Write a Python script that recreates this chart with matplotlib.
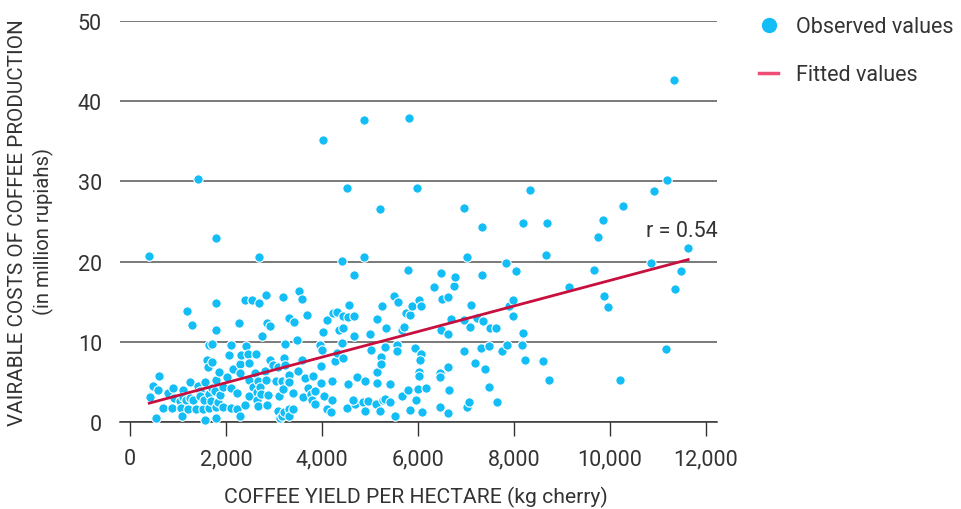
import numpy as np
import matplotlib.pyplot as plt
from matplotlib.lines import Line2D

# observed points (yield kg cherry / ha, variable cost million rupiah)
obs_x = [396, 417, 479, 583, 542, 604, 687, 792, 875, 896, 917, 1042, 1062, 1083,
         1104, 1104, 1167, 1187, 1208, 1250, 1250, 1292, 1312, 1375, 1417, 1417, 1458, 1458,
         1521, 1542, 1562, 1562, 1604, 1625, 1646, 1646, 1646, 1687, 1708, 1708, 1708, 1771,
         1792, 1792, 1792, 1792, 1792, 1792, 1833, 1854, 1875, 1937, 1937, 2021, 2062, 2104,
         2104, 2104, 2146, 2229, 2229, 2271, 2292, 2292, 2292, 2312, 2396, 2396, 2417, 2458,
         2479, 2479, 2479, 2542, 2562, 2604, 2625, 2646, 2646, 2667, 2667, 2687, 2687,
         2708, 2729, 2750, 2812, 2833, 2833, 2854, 2854, 2875, 2917, 2917, 2979, 3042, 3083,
         3083, 3104, 3125, 3167, 3167, 3187, 3187, 3229, 3208, 3229, 3208, 3292, 3312, 3312,
         3312, 3312, 3312, 3396, 3396, 3417, 3479, 3500, 3521, 3583, 3583, 3604, 3646, 3687,
         3708, 3771, 3792, 3812, 3854, 3854, 3958, 4000, 3979, 3979, 4021, 4021, 4042, 4104,
         4104, 4187,
         4208, 4208, 4229, 4271, 4312, 4312, 4354, 4417, 4417, 4437, 4437, 4437, 4521, 4521,
         4542, 4542, 4562, 4667, 4667, 4667, 4687, 4646, 4729, 4854, 4875, 4875, 4896, 4896,
         4958, 5000, 5021, 5125, 5146, 5146, 5146, 5208, 5208, 5229, 5229, 5250, 5271, 5312,
         5312, 5333, 5417, 5417, 5500, 5521, 5562, 5562, 5583,
         5667, 5667, 5708, 5750, 5833, 5792, 5792, 5812, 5833, 5875, 5937, 5958, 5979, 6000,
         6021, 6021, 6021, 6062, 6062, 6042, 6083, 6167, 6333, 6458, 6458, 6458, 6479, 6479,
         6500, 6625, 6625, 6625, 6625, 6646, 6687, 6750, 6771, 6958, 6958, 6958, 7021, 7021,
         7062, 7083,
         7104, 7187, 7229, 7312, 7333, 7333, 7354, 7396, 7479, 7479, 7500, 7625, 7646, 7750,
         7833, 7854, 7896, 7979, 7979, 8042, 8167, 8187, 8187, 8229, 8333, 8604, 8667, 8687,
         8729,
         9146, 9667, 9750, 9854, 9875, 9958, 10208, 10271, 10854, 10917, 11167, 11187, 11333,
         11354, 11479, 11625]
obs_y = [20.7, 3.1, 4.5, 4.0, 0.5, 5.7, 1.7, 3.6, 1.7, 4.2, 3.0, 2.6, 1.7, 0.7,
         4.0, 3.1, 2.7, 13.8, 1.6, 5.0, 3.0, 12.1, 2.7, 1.6, 30.3, 4.5, 3.9, 3.2,
         1.6, 2.7, 5.0, 0.2, 7.7, 6.9, 9.6, 3.5, 1.7, 2.6, 9.7, 7.5, 4.2, 3.9,
         22.9, 14.8, 11.5, 5.2, 1.9, 0.5, 2.5, 6.2, 3.4, 4.4, 1.9, 5.6, 8.4, 9.6,
         4.2, 1.7, 6.6, 3.6, 1.6, 12.3, 7.2, 6.1, 0.7, 8.4, 15.2, 2.1, 9.5, 8.5,
         7.4, 5.2, 3.2, 15.2, 4.4, 6.1, 8.5, 3.7, 2.7, 5.1, 2.0, 20.6, 14.8,
         4.4, 3.5, 10.7, 6.4, 15.8, 5.2, 12.3, 2.1, 3.4, 12.0, 7.7, 7.1, 5.1, 6.9,
         1.4, 3.2, 0.5, 5.1, 0.7, 15.6, 4.1, 9.7, 8.0, 7.1, 1.2, 5.1, 13.0, 5.9,
         5.0, 1.6, 0.7, 3.6, 1.6, 12.5, 10.2, 6.4, 16.3, 15.3, 7.7, 3.1, 5.5, 13.3,
         4.2, 3.5, 2.7, 5.7, 3.9, 2.2, 9.6, 9.0, 7.0, 4.9, 11.2, 35.2, 3.2, 12.7,
         1.6, 1.2,
         5.1, 2.7, 13.6, 7.6, 13.7, 8.6, 11.5, 20.1, 9.9, 13.2, 11.7, 8.0, 29.2, 1.7,
         13.1, 4.7, 14.6, 18.3, 13.2, 10.7, 2.2, 2.7, 5.6, 2.5, 37.7, 20.6, 5.1, 1.4,
         2.6, 11.0, 9.0, 2.2, 12.8, 6.2, 4.9, 26.6, 1.4, 8.1, 7.2, 14.5, 2.7, 9.4,
         2.9, 11.7, 4.7, 2.5, 15.7, 0.7, 9.6, 8.9, 15.0,
         11.5, 3.2, 11.8, 13.6, 13.3, 19.0, 4.0, 37.9, 1.5, 14.5, 9.2, 2.7, 29.2, 4.1,
         15.2, 6.2, 5.7, 14.5, 8.5, 7.7, 1.2, 4.2, 16.8, 1.9, 6.1, 5.6, 18.6, 11.5,
         15.3, 15.6, 11.0, 6.9, 1.1, 4.0, 12.8, 17.0, 18.1, 8.9, 26.7, 12.7, 20.6, 1.9,
         2.5, 11.8,
         14.6, 7.4, 13.0, 9.2, 18.3, 24.3, 12.6, 6.6, 9.5, 4.4, 11.7, 11.7, 2.5, 8.9,
         19.8, 9.6, 14.5, 15.2, 13.2, 18.8, 9.6, 24.8, 11.1, 7.7, 28.9, 7.6, 20.8, 24.8,
         5.2,
         16.8, 19.0, 23.1, 25.2, 15.7, 14.3, 5.2, 26.9, 19.8, 28.8, 9.1, 30.2, 42.6,
         16.6, 18.8, 21.7]

# fitted line end points
fit_x = [400, 11630]
fit_y = [2.35, 20.25]

x_ticks = [0, 2000, 4000, 6000, 8000, 10000, 12000]
y_ticks = [0, 10, 20, 30, 40, 50]

BLUE = '#13bdf5'
RED = '#c8103e'
TXT = '#333333'

plt.rcParams['font.family'] = ['Roboto', 'DejaVu Sans']

fig = plt.figure(figsize=(9.61, 5.10), dpi=100)
ax = fig.add_axes([120 / 961, 87 / 510, 597 / 961, 401 / 510])

ax.scatter(obs_x, obs_y, s=46, color=BLUE, edgecolors='white', linewidths=0.8,
           zorder=3, clip_on=False)
ax.plot(fit_x, fit_y, color=RED, lw=2, zorder=4)

ax.set_xlim(-210, 12230)
ax.set_ylim(0, 50)
ax.set_xticks(x_ticks)
ax.set_xticklabels(['{:,}'.format(v) for v in x_ticks])
ax.set_yticks(y_ticks)
ax.yaxis.grid(True, color='#555555', lw=1.1)
ax.set_axisbelow(True)
for s in ['top', 'right', 'left']:
    ax.spines[s].set_visible(False)
ax.spines['bottom'].set_color('#333333')
ax.spines['bottom'].set_linewidth(1.1)
ax.tick_params(axis='x', length=10, width=1, color='#333333', pad=9,
               labelsize=15.5, labelcolor=TXT)
ax.tick_params(axis='y', length=0, pad=13, labelsize=15.5, labelcolor=TXT)

ax.text(12250, 23.9, 'r = 0.54', ha='right', va='center', fontsize=15.5, color=TXT)

fig.text(416 / 961, 1 - 497 / 510, 'COFFEE YIELD PER HECTARE (kg cherry)',
         ha='center', va='center', fontsize=15.2, color=TXT)
fig.text(18 / 961, 1 - 223 / 510, 'VAIRABLE COSTS OF COFFEE PRODUCTION',
         ha='center', va='center', rotation=90, fontsize=14.9, color=TXT)
fig.text(43 / 961, 1 - 232 / 510, '(in million rupiahs)',
         ha='center', va='center', rotation=90, fontsize=14.6, color=TXT)

handles = [Line2D([], [], ls='none', marker='o', ms=10, color=BLUE),
           Line2D([], [], color='#ee4d76', lw=2.5)]
fig.legend(handles, ['Observed values', 'Fitted values'], loc='upper left',
           bbox_to_anchor=(740 / 961, 1 + 2 / 510), frameon=False, fontsize=15.5,
           labelcolor=TXT, labelspacing=1.25, handlelength=0.85, handletextpad=0.85)

fig.savefig('out.png', dpi=100)
